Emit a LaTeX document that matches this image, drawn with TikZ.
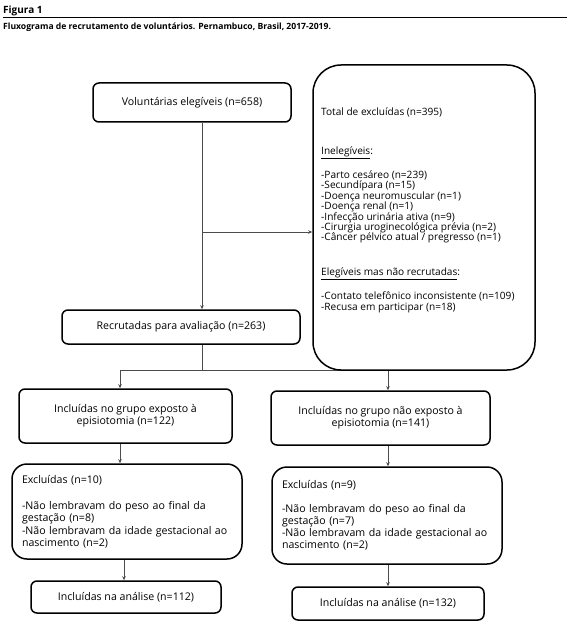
\documentclass[tikz,border=0pt]{standalone}
\usepackage{fontspec}
\setmainfont{Open Sans}
\usetikzlibrary{arrows.meta}
\newcommand\mytightlines{\lineskiplimit=-20pt\relax\lineskip=0pt\relax}
\begin{document}
\begin{tikzpicture}[x=1pt,y=-1pt,
  box/.style={draw=black, fill=white, line width=1.5pt, rounded corners=6pt, inner sep=0pt,
    font=\fontsize{10.6}{12.2}\selectfont, align=center},
  exbox/.style={box, rounded corners=15pt, align=left, inner xsep=10pt},
  txt/.style={inner sep=0pt, font={\fontsize{10.1}{10.4}\selectfont\mytightlines}, align=left},
  conn/.style={draw=black!70, line width=0.8pt},
  arr/.style={conn, -{Stealth[length=4pt,width=3.5pt]}},
]
\useasboundingbox (0,0) rectangle (570,628);
% heading
\node[anchor=base west, inner sep=0pt, font=\bfseries\fontsize{10}{12}\selectfont] (title) at (3,14) {Figura 1};
\draw[line width=1pt] (3,17.5) -- (567,17.5);
\node[anchor=base west, inner sep=0pt, font=\bfseries\fontsize{8.6}{10}\selectfont] (caption) at (3,29.5) {Fluxograma de recrutamento de voluntários. Pernambuco, Brasil, 2017-2019.};

% x positions of connectors
\coordinate (xa) at (202,0);
\coordinate (xl) at (120,0);
\coordinate (xm) at (124,0);
\coordinate (xr) at (388,0);
\coordinate (br) at (202,232);

% boxes
\node[box, minimum width=198pt, minimum height=39pt] (vol) at (192,102.5) {Voluntárias elegíveis (n=658)};
\node[box, minimum width=238pt, minimum height=34pt] (rec) at (181,327) {Recrutadas para avaliação (n=263)};
\draw[conn] (xl |- 0,370) -- (xr |- 0,370);
\node[box, rounded corners=28pt, minimum width=222pt, minimum height=305pt] (exc) at (424,217.5) {};
\node[txt, anchor=north west] (exctext) at (321,107.5) {Total de excluídas (n=395)\\[28.6pt]
\underline{Inelegíveis}:\\[13.6pt]
-Parto cesáreo (n=239)\\
-Secundípara (n=15)\\
-Doença neuromuscular (n=1)\\
-Doença renal (n=1)\\
-Infecção urinária ativa (n=9)\\
-Cirurgia uroginecológica prévia (n=2)\\
-Câncer pélvico atual / pregresso (n=1)\\[24.6pt]
\underline{Elegíveis mas não recrutadas}:\\[13.6pt]
-Contato telefônico inconsistente (n=109)\\[0.6pt]
-Recusa em participar (n=18)};

\node[box, minimum width=213pt, minimum height=54pt] (g1) at (125.5,416) {Incluídas no grupo exposto à\\episiotomia (n=122)};
\node[box, minimum width=219pt, minimum height=54pt] (g2) at (380.5,418) {Incluídas no grupo não exposto à\\episiotomia (n=141)};

\node[exbox, minimum width=230pt, minimum height=95pt, text width=210pt] (e1) at (127,511.5) {Excluídas (n=10)\\[14.5pt]
-Não lembravam do peso ao final da\\
gestação (n=8)\\
-Não lembravam da idade gestacional ao\\
nascimento (n=2)};
\node[exbox, minimum width=230pt, minimum height=97pt, text width=210pt] (e2) at (387,515.5) {Excluídas (n=9)\\[11.5pt]
-Não lembravam do peso ao final da\\
gestação (n=7)\\
-Não lembravam da idade gestacional ao\\
nascimento (n=2)};

\node[box, minimum width=190pt, minimum height=32pt] (f1) at (126,597) {Incluídas na análise (n=112)};
\node[box, minimum width=192pt, minimum height=33pt] (f2) at (388,603.5) {Incluídas na análise (n=132)};

% connectors
\draw[arr] (xa |- vol.south) -- (xa |- rec.north);
\draw[arr] (br) -- (br -| exc.west);
\draw[conn] (xa |- rec.south) -- (xa |- exc.south);
\draw[arr] (xl |- exc.south) -- (xl |- g1.north);
\draw[arr] (xr |- exc.south) -- (xr |- g2.north);
\draw[arr] (xl |- g1.south) -- (xl |- e1.north);
\draw[arr] (xr |- g2.south) -- (xr |- e2.north);
\draw[arr] (xm |- e1.south) -- (xm |- f1.north);
\draw[arr] (xr |- e2.south) -- (xr |- f2.north);
\end{tikzpicture}
\end{document}
